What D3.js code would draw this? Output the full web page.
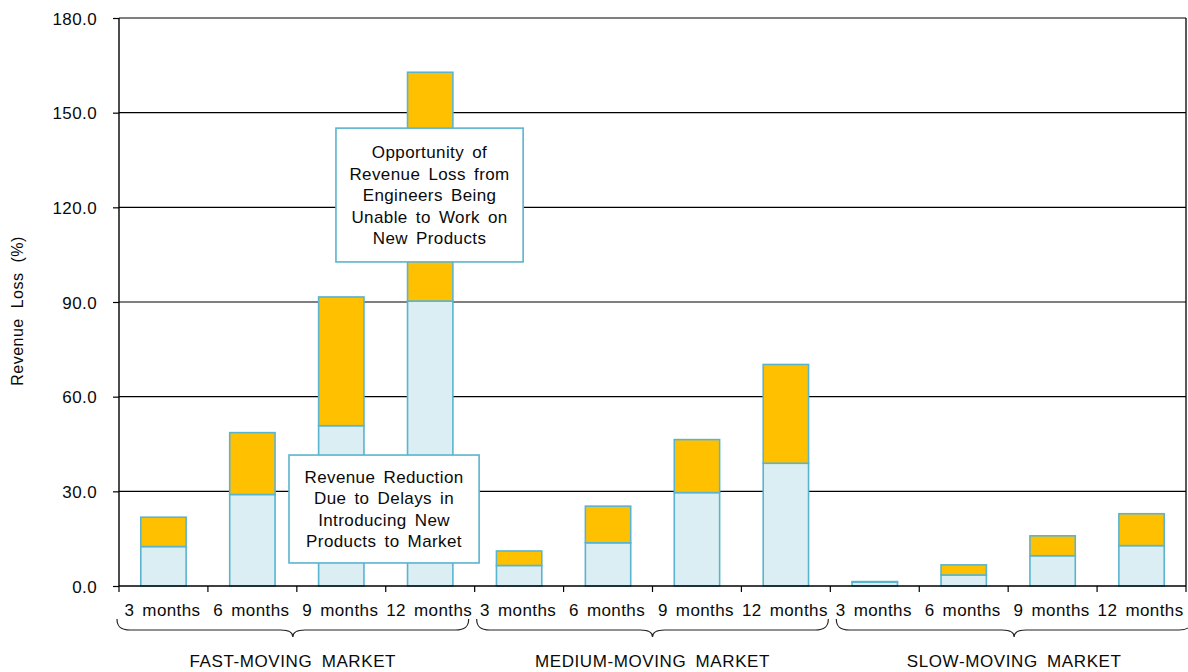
<!DOCTYPE html>
<html>
<head>
<meta charset="utf-8">
<script src="https://cdn.jsdelivr.net/npm/d3@7"></script>
<style>
  html, body { margin: 0; padding: 0; background: #fff; }
  svg { display: block; font-family: Arial, "Liberation Sans", sans-serif; }
</style>
</head>
<body>
<svg id="chart" width="1188" height="672"></svg>
<script>
// ---- Data ----
const periods = ["3 months", "6 months", "9 months", "12 months"];
const markets = ["FAST-MOVING MARKET", "MEDIUM-MOVING MARKET", "SLOW-MOVING MARKET"];
// Revenue reduction due to delays (lower, light blue segment), % per market x period
const delayLoss = [12.5, 29.0, 50.8, 90.3, 6.5, 13.7, 29.6, 38.9, 1.2, 3.5, 9.6, 12.8];
// Opportunity of revenue loss (upper, orange segment)
const opportunityLoss = [9.3, 19.6, 40.8, 72.5, 4.6, 11.6, 16.8, 31.3, 0.2, 3.2, 6.3, 10.1];
const yTicks = [0, 30, 60, 90, 120, 150, 180];
const yLabel = "Revenue Loss (%)";
const annotations = [
  { lines: ["Opportunity of", "Revenue Loss from", "Engineers Being", "Unable to Work on", "New Products"],
    x0: 2.44, x1: 4.545, yTop: 145.1, yBottom: 102.7 },
  { lines: ["Revenue Reduction", "Due to Delays in", "Introducing New", "Products to Market"],
    x0: 1.912, x1: 4.05, yTop: 41.5, yBottom: 7.3 }
];

// ---- Layout ----
const svg = d3.select("#chart");
const L = 119, R = 1186, T = 18, B = 586;
const nCat = markets.length * periods.length;
const rows = d3.range(nCat).map(i => ({
  i, period: periods[i % periods.length], market: markets[Math.floor(i / periods.length)],
  delay: delayLoss[i], opp: opportunityLoss[i]
}));

const x = d3.scaleBand().domain(d3.range(nCat)).range([L, R]).paddingInner(0.49).paddingOuter(0.245);
const xi = d3.scaleLinear().domain([0, nCat]).range([L, R]);
const y = d3.scaleLinear().domain([0, 180]).range([B, T]);

const ink = "#000";
const blueFill = "#DAEEF3", orange = "#FFC000", barStroke = "#5AB4CE";
const txtStyle = sel => sel.attr("fill", "#0a0a0a").attr("font-size", 17).attr("letter-spacing", 0.4).attr("word-spacing", 3);

// gridlines
svg.append("g").selectAll("line").data(yTicks.filter(d => d > 0)).join("line")
  .attr("x1", L).attr("x2", R).attr("y1", d => y(d)).attr("y2", d => y(d))
  .attr("stroke", ink).attr("stroke-width", 1.1);
// right border
svg.append("line").attr("x1", R).attr("x2", R).attr("y1", T).attr("y2", B).attr("stroke", ink).attr("stroke-width", 1.3);

// bars
const bars = svg.append("g");
bars.selectAll("rect.delay").data(rows).join("rect").attr("class", "delay")
  .attr("x", d => x(d.i)).attr("width", x.bandwidth())
  .attr("y", d => y(d.delay)).attr("height", d => y(0) - y(d.delay))
  .attr("fill", blueFill).attr("stroke", barStroke).attr("stroke-width", 1.6);
bars.selectAll("rect.opp").data(rows).join("rect").attr("class", "opp")
  .attr("x", d => x(d.i)).attr("width", x.bandwidth())
  .attr("y", d => y(d.delay + d.opp)).attr("height", d => y(d.delay) - y(d.delay + d.opp))
  .attr("fill", orange).attr("stroke", barStroke).attr("stroke-width", 1.6);

// y axis
const yAxis = svg.append("g").attr("transform", `translate(${L},0)`)
  .call(d3.axisLeft(y).tickValues(yTicks).tickFormat(d3.format(".1f")).tickSize(6).tickPadding(16));
yAxis.select(".domain").attr("stroke", ink).attr("stroke-width", 1.4).attr("d", `M0,${T}V${B}`);
yAxis.selectAll(".tick line").attr("stroke", ink).attr("stroke-width", 1.2);
yAxis.selectAll(".tick text").attr("font-family", null).call(txtStyle).attr("dy", "0.36em");

// x axis
const xAxisG = svg.append("g").attr("transform", `translate(0,${B})`);
xAxisG.append("line").attr("x1", L).attr("x2", R).attr("stroke", ink).attr("stroke-width", 1.4);
xAxisG.selectAll("line.tk").data(d3.range(nCat + 1)).join("line").attr("class", "tk")
  .attr("x1", d => xi(d)).attr("x2", d => xi(d)).attr("y1", 0).attr("y2", 6)
  .attr("stroke", ink).attr("stroke-width", 1.2);
xAxisG.selectAll("text").data(rows).join("text")
  .attr("x", d => x(d.i) + x.bandwidth() / 2 - 1).attr("y", 30)
  .attr("text-anchor", "middle").call(txtStyle).text(d => d.period);

// braces + market labels
const by = 619;
markets.forEach((m, gi) => {
  const a = xi(gi * periods.length) + 2 - 4 * (1 - gi), b = xi((gi + 1) * periods.length) - 2 - 4 * (1 - gi) + (gi === 2 ? 4 : 0);
  const mid = (a + b) / 2;
  const p = `M${a},${by} C${a},${by + 8} ${a + 4},${by + 11} ${a + 13},${by + 11}
    L${mid - 12},${by + 11} C${mid - 4},${by + 11} ${mid},${by + 13} ${mid},${by + 18}
    C${mid},${by + 13} ${mid + 4},${by + 11} ${mid + 12},${by + 11}
    L${b - 13},${by + 11} C${b - 4},${by + 11} ${b},${by + 8} ${b},${by}`;
  svg.append("path").attr("d", p).attr("fill", "none").attr("stroke", "#222").attr("stroke-width", 1.2);
  svg.append("text").attr("x", mid).attr("y", 667).attr("text-anchor", "middle")
    .call(txtStyle).attr("letter-spacing", 0.6).attr("word-spacing", 4).text(m);
});

// y label
svg.append("text").attr("transform", `translate(23,${(T + B) / 2 + 9}) rotate(-90)`)
  .attr("text-anchor", "middle").call(txtStyle).attr("font-size", 16).attr("letter-spacing", 0.5).attr("word-spacing", 5)
  .text(yLabel);

// annotation boxes
annotations.forEach(an => {
  const bx0 = xi(an.x0), bx1 = xi(an.x1), byT = y(an.yTop), byB = y(an.yBottom);
  const g = svg.append("g");
  g.append("rect").attr("x", bx0).attr("y", byT).attr("width", bx1 - bx0).attr("height", byB - byT)
    .attr("fill", "#fff").attr("stroke", barStroke).attr("stroke-width", 1.6);
  const lh = 21.5, cy = (byT + byB) / 2, n = an.lines.length;
  g.selectAll("text").data(an.lines).join("text")
    .attr("x", (bx0 + bx1) / 2).attr("y", (d, k) => cy + (k - (n - 1) / 2) * lh)
    .attr("dy", "0.36em").attr("text-anchor", "middle").call(txtStyle).text(d => d);
});
</script>
</body>
</html>
